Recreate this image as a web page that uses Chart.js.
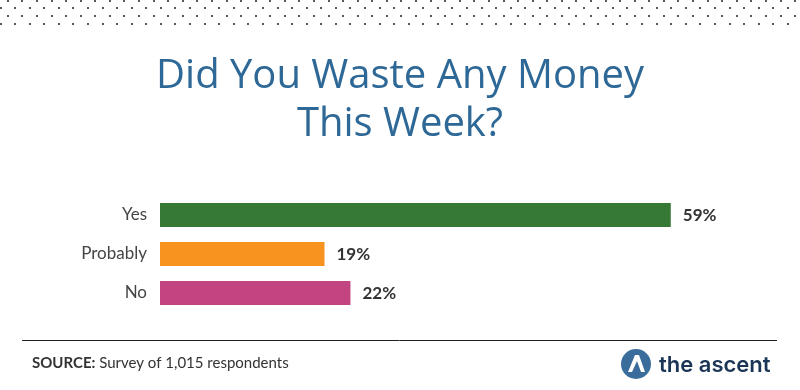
<!DOCTYPE html>
<html>
<head>
<meta charset="utf-8">
<script src="https://cdn.jsdelivr.net/npm/chart.js@4"></script>
<style>
  html, body { margin: 0; padding: 0; background: #fff; }
  #wrap { width: 800px; height: 390px; position: relative; }
</style>
</head>
<body>
<div id="wrap"><canvas id="wasteChart" width="800" height="390"></canvas></div>
<script>
var categories = ['Yes', 'Probably', 'No'];
var shares = [59, 19, 22];
var barColors = ['#367935', '#f7931e', '#c24480'];
var titleLines = ['Did You Waste Any Money', 'This Week?'];
var sourceLabel = 'SOURCE:';
var sourceText = ' Survey of 1,015 respondents';
var brandName = 'the ascent';

// dotted band at the top, separator, footer and logo
var decorPlugin = {
    id: 'decor',
    beforeDraw: function(chart) {
        var ctx = chart.ctx;
        ctx.save();
        ctx.fillStyle = '#fff';
        ctx.fillRect(0, 0, chart.width, chart.height);
        ctx.fillStyle = '#5a5a5a';
        var rows = [0.7, 8.3, 16, 24];
        var step = 14.58;
        rows.forEach(function(y, i) {
            var x0 = (i % 2 === 0) ? 7.8 : 0.5;
            for (var x = x0; x < chart.width; x += step) {
                ctx.fillRect(Math.round(x) - 1, Math.round(y) - 1, 2, 2);
            }
        });

        // title
        ctx.fillStyle = '#2e6896';
        ctx.font = '40px "Open Sans"';
        ctx.textAlign = 'center';
        ctx.textBaseline = 'alphabetic';
        ctx.fillText(titleLines[0], 400, 88);
        ctx.fillText(titleLines[1], 400, 136);
        ctx.restore();
    },
    afterDraw: function(chart) {
        var ctx = chart.ctx;
        ctx.save();
        // separator
        ctx.strokeStyle = '#222';
        ctx.lineWidth = 1;
        ctx.beginPath();
        ctx.moveTo(22, 340.5);
        ctx.lineTo(777, 340.5);
        ctx.stroke();

        // source
        ctx.textAlign = 'left';
        ctx.textBaseline = 'alphabetic';
        ctx.fillStyle = '#333';
        ctx.font = 'bold 15px Lato';
        ctx.fillText(sourceLabel, 32, 368);
        var w = ctx.measureText(sourceLabel).width;
        ctx.font = '15px Lato';
        ctx.fillText(sourceText, 32 + w, 368);

        // logo
        ctx.fillStyle = '#3a6d9c';
        ctx.beginPath();
        ctx.arc(636, 364, 15, 0, Math.PI * 2);
        ctx.fill();
        ctx.fillStyle = '#fff';
        ctx.beginPath();
        ctx.moveTo(628, 372);
        ctx.lineTo(635, 355);
        ctx.lineTo(639, 355);
        ctx.lineTo(645, 372);
        ctx.lineTo(641, 372);
        ctx.lineTo(637, 361);
        ctx.lineTo(632, 372);
        ctx.closePath();
        ctx.fill();
        ctx.fillStyle = '#1b3556';
        ctx.font = '600 22px Inter';
        ctx.fillText(brandName, 659, 372);
        ctx.restore();
    }
};

// value labels at the end of each bar
var valueLabels = {
    id: 'valueLabels',
    afterDatasetsDraw: function(chart) {
        var ctx = chart.ctx;
        var meta = chart.getDatasetMeta(0);
        ctx.save();
        ctx.fillStyle = '#333';
        ctx.font = 'bold 17px Lato';
        ctx.textAlign = 'left';
        ctx.textBaseline = 'middle';
        meta.data.forEach(function(bar, i) {
            ctx.fillText(shares[i] + '%', bar.x + 12, bar.y + 1);
        });
        ctx.restore();
    }
};

var ctx = document.getElementById('wasteChart').getContext('2d');

var wasteChart = new Chart(ctx, {
    type: 'bar',
    data: {
        labels: categories,
        datasets: [{
            data: shares,
            backgroundColor: barColors,
            borderWidth: 0,
            barPercentage: 0.615,
            categoryPercentage: 1
        }]
    },
    options: {
        indexAxis: 'y',
        responsive: false,
        animation: false,
        layout: {
            padding: { top: 195.5, bottom: 77.5, left: 0, right: 34 }
        },
        scales: {
            x: {
                display: false,
                min: 0,
                max: 70
            },
            y: {
                afterFit: function(axis) { axis.width = 160; },
                grid: { display: false, drawTicks: false },
                border: { display: false },
                ticks: {
                    color: '#444',
                    padding: 13,
                    font: { family: 'Lato', size: 17 }
                }
            }
        },
        plugins: {
            legend: { display: false },
            tooltip: { enabled: false }
        }
    },
    plugins: [decorPlugin, valueLabels]
});
</script>
</body>
</html>
